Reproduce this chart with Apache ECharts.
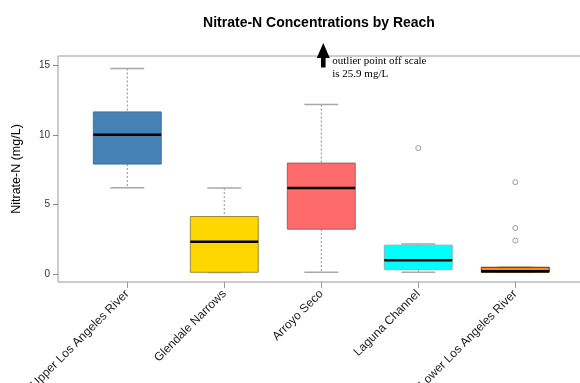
<!DOCTYPE html>
<html>
<head>
<meta charset="utf-8">
<script src="https://cdn.jsdelivr.net/npm/echarts@6/dist/echarts.min.js"></script>
<style>
  html, body { margin: 0; padding: 0; background: #ffffff; }
  #chart { width: 580px; height: 383px; }
</style>
</head>
<body>
<div id="chart"></div>
<script>
// Reaches along the river, in upstream-to-downstream order
const reaches = ['Upper Los Angeles River', 'Glendale Narrows', 'Arroyo Seco', 'Laguna Channel', 'Lower Los Angeles River'];

// Five-number summaries of nitrate-N (mg/L) per reach
const whiskerLow  = [6.2,  0.10, 0.12, 0.12, 0.12];
const quartile1   = [7.9,  0.12, 3.22, 0.31, 0.12];
const medians     = [10.0, 2.31, 6.17, 0.99, 0.19];
const quartile3   = [11.65, 4.13, 7.97, 2.07, 0.48];
const whiskerHigh = [14.77, 6.17, 12.18, 2.16, 0.48];

// Individual outliers: [reach number, value]
const outliers = [[4, 9.05], [5, 6.6], [5, 3.3], [5, 2.4]];
// Outlier that lies above the plotted range
const offScale = [[3, 25.9]];

// Tick values
const yTicks = [0, 5, 10, 15];
const xTicks = [1, 2, 3, 4, 5];

const boxFill   = ['#4682B4', '#FFD700', '#FF6A6A', '#00FFFF', '#FF8C00'];
const boxStroke = ['#3f74a2', '#9c8a3a', '#a36060', '#7fb8b8', '#5a3210'];

const BOX_W = 0.70;
const CAP_W = 0.35;

const boxData = reaches.map((_, i) => [i + 1, whiskerLow[i], quartile1[i], medians[i], quartile3[i], whiskerHigh[i]]);

function renderBox(params, api) {
  const i = params.dataIndex;
  const x = api.value(0);
  const pLow = api.coord([x, api.value(1)]);
  const pQ1  = api.coord([x, api.value(2)]);
  const pMed = api.coord([x, api.value(3)]);
  const pQ3  = api.coord([x, api.value(4)]);
  const pHigh = api.coord([x, api.value(5)]);
  const cx = pMed[0];
  const hw = api.size([BOX_W, 0])[0] / 2;
  const cw = api.size([CAP_W, 0])[0] / 2;
  const whiskerStyle = { stroke: '#8c8c8c', lineWidth: 1, lineDash: [2, 2] };
  const capStyle = { stroke: '#a8a8a8', lineWidth: 1.5 };
  return {
    type: 'group',
    children: [
      { type: 'line', shape: { x1: cx, y1: pHigh[1], x2: cx, y2: pQ3[1] }, style: whiskerStyle },
      { type: 'line', shape: { x1: cx, y1: pQ1[1], x2: cx, y2: pLow[1] }, style: whiskerStyle },
      { type: 'line', shape: { x1: cx - cw, y1: pHigh[1], x2: cx + cw, y2: pHigh[1] }, style: capStyle },
      { type: 'line', shape: { x1: cx - cw, y1: pLow[1], x2: cx + cw, y2: pLow[1] }, style: capStyle },
      { type: 'rect',
        shape: { x: cx - hw, y: pQ3[1], width: 2 * hw, height: Math.max(pQ1[1] - pQ3[1], 1) },
        style: { fill: boxFill[i], stroke: boxStroke[i], lineWidth: 1 } },
      { type: 'line', shape: { x1: cx - hw, y1: pMed[1], x2: cx + hw, y2: pMed[1] },
        style: { stroke: '#000000', lineWidth: 2.5 } }
    ]
  };
}

function renderOffScale(params, api) {
  const x = api.coord([api.value(0), 0])[0] + 2;
  const top = params.coordSys.y;
  return {
    type: 'group',
    children: [
      { type: 'polygon',
        shape: { points: [[x, top - 13], [x - 6.5, top + 2], [x - 2.3, top + 2], [x - 2.3, top + 11.5],
                          [x + 2.3, top + 11.5], [x + 2.3, top + 2], [x + 6.5, top + 2]] },
        style: { fill: '#000000' } },
      { type: 'text', x: x + 9, y: top + 5,
        style: { text: 'outlier point off scale', fill: '#000', font: '11px "Liberation Serif", "Times New Roman", serif', verticalAlign: 'middle' } },
      { type: 'text', x: x + 9, y: top + 18,
        style: { text: 'is ' + api.value(1) + ' mg/L', fill: '#000', font: '11px "Liberation Serif", "Times New Roman", serif', verticalAlign: 'middle' } }
    ]
  };
}

const chart = echarts.init(document.getElementById('chart'), null, { renderer: 'canvas' });
chart.setOption({
  animation: false,
  backgroundColor: '#ffffff',
  textStyle: { fontFamily: '"Liberation Sans", Arial, sans-serif' },
  title: {
    text: 'Nitrate-N Concentrations by Reach',
    left: 319, top: 16, textAlign: 'center', padding: 0,
    textStyle: { fontSize: 14, fontWeight: 'bold', color: '#000', fontFamily: '"Liberation Sans", Arial, sans-serif' }
  },
  grid: {
    left: 58, right: -2, top: 56, bottom: 101,
    outerBoundsMode: 'none', containLabel: false,
    show: true, borderColor: '#9a9a9a', borderWidth: 1, backgroundColor: 'transparent'
  },
  xAxis: {
    type: 'value', min: 0.2857, max: 5.688,
    axisLine: { show: false, onZero: false },
    splitLine: { show: false },
    axisTick: { show: true, customValues: xTicks, length: 6, lineStyle: { color: '#999' } },
    axisLabel: {
      customValues: xTicks, rotate: 45, margin: 10, fontSize: 12, color: '#1a1a1a',
      formatter: v => reaches[Math.round(v) - 1]
    }
  },
  yAxis: {
    type: 'value', min: -0.58, max: 15.67,
    name: 'Nitrate-N (mg/L)', nameLocation: 'middle', nameGap: 35,
    nameTextStyle: { fontSize: 12.5, color: '#000' },
    axisLine: { show: false, onZero: false },
    splitLine: { show: false },
    axisTick: { show: true, customValues: yTicks, length: 5, lineStyle: { color: '#888' } },
    axisLabel: { customValues: yTicks, fontSize: 10, color: '#333', margin: 8 }
  },
  series: [
    { type: 'custom', name: 'boxes', renderItem: renderBox, data: boxData,
      encode: { x: 0, y: [1, 2, 3, 4, 5] }, z: 2 },
    { type: 'scatter', name: 'outliers', data: outliers, symbol: 'circle', symbolSize: 5,
      itemStyle: { color: '#ffffff', borderColor: '#999999', borderWidth: 1, opacity: 1 }, z: 3 },
    { type: 'custom', name: 'offscale', renderItem: renderOffScale, data: offScale,
      encode: { x: 0, y: 1 }, clip: false, z: 4 }
  ]
});
</script>
</body>
</html>
